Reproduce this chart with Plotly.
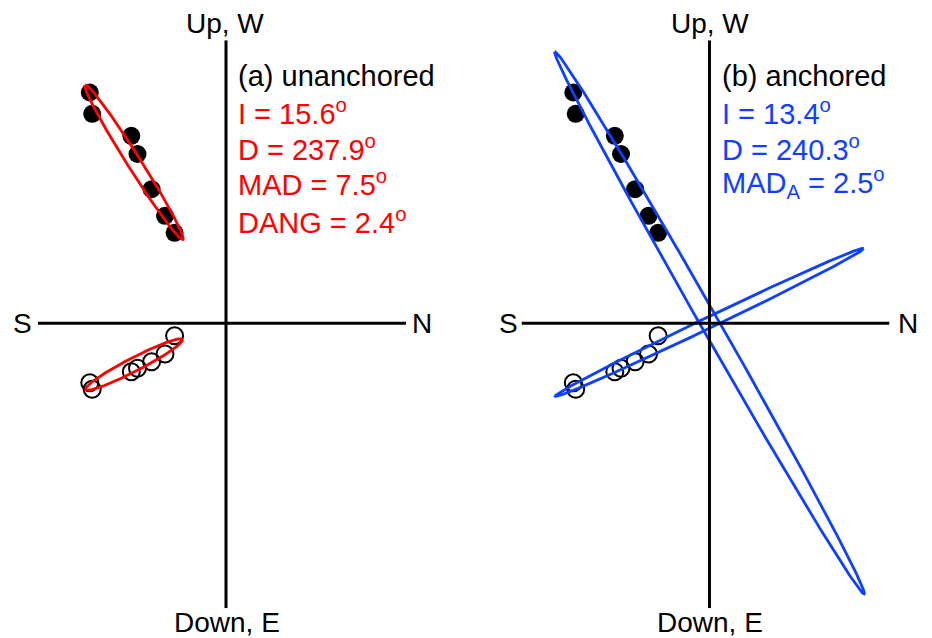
import numpy as np
import plotly.graph_objects as go

# Demagnetisation data (same for both panels), arbitrary units
x_ns = [-136.2, -133.8, -94.7, -88.5, -74.4, -61.0, -51.4]      # N-S horizontal component
y_up = [230.8, 209.5, 187.5, 169.3, 134.1, 107.5, 90.5]         # Up/W (filled)
y_down = [-59.4, -66.0, -48.4, -45.0, -38.4, -30.7, -12.4]      # Down/E (open)

# Ellipse parameters: [cx, cy, semi-major, semi-minor, angle_deg]
ell_a_upper = [-92.0, 161.0, 91.5, 6.8, 122.3]
ell_a_lower = [-92.0, -41.2, 54.5, 6.8, 27.3]
ell_b_upper = [0.0, 0.5, 312.0, 9.0, 119.7]
ell_b_lower = [0.0, 1.0, 171.0, 5.5, 25.6]

stats_a = ["(a) unanchored", "I = 15.6<sup>o</sup>", "D = 237.9<sup>o</sup>",
           "MAD = 7.5<sup>o</sup>", "DANG = 2.4<sup>o</sup>"]
stats_b = ["(b) anchored", "I = 13.4<sup>o</sup>", "D = 240.3<sup>o</sup>",
           "MAD<sub>A</sub> = 2.5<sup>o</sup>"]
axis_labels = ["Up, W", "Down, E", "S", "N"]

RED = "#ff0000"
BLUE = "#1040ff"
FONT = "Liberation Sans, Arial, sans-serif"

XR = [-188, 180]
YR = [-285, 283]

OFF = 8                      # page body margin
W, H = 932 - 2 * OFF, 638 - OFF


def px_x(px):
    return (px - OFF) / W


def px_y(py):
    return (H - (py - OFF)) / H


def ellipse(p, n=300):
    cx, cy, a, b, ang = p
    th = np.deg2rad(ang)
    t = np.linspace(0, 2 * np.pi, n)
    xs = cx + a * np.cos(t) * np.cos(th) - b * np.sin(t) * np.sin(th)
    ys = cy + a * np.cos(t) * np.sin(th) + b * np.sin(t) * np.cos(th)
    return xs, ys


fig = go.Figure()

panels = [("x", "y", [ell_a_upper, ell_a_lower], RED, stats_a,
           [(225, 23), (227, 622), (22, 323), (422, 323)]),
          ("x2", "y2", [ell_b_upper, ell_b_lower], BLUE, stats_b,
           [(710, 23), (710, 622), (508, 323), (908, 323)])]

for xa, ya, ells, col, stats, lab_pos in panels:
    fig.add_trace(go.Scatter(x=x_ns, y=y_up, mode="markers", xaxis=xa, yaxis=ya,
                             marker=dict(symbol="circle", size=18, color="black"),
                             showlegend=False, hoverinfo="skip"))
    fig.add_trace(go.Scatter(x=x_ns, y=y_down, mode="markers", xaxis=xa, yaxis=ya,
                             marker=dict(symbol="circle-open", size=17, color="black",
                                         line=dict(width=2, color="black")),
                             showlegend=False, hoverinfo="skip"))
    for e in ells:
        ex, ey = ellipse(e)
        fig.add_trace(go.Scatter(x=ex, y=ey, mode="lines", xaxis=xa, yaxis=ya,
                                 line=dict(color=col, width=2.8),
                                 showlegend=False, hoverinfo="skip"))
    # axes lines
    fig.add_trace(go.Scatter(x=[XR[0], XR[1]], y=[0, 0], mode="lines", xaxis=xa, yaxis=ya,
                             line=dict(color="black", width=3), showlegend=False,
                             hoverinfo="skip"))
    fig.add_trace(go.Scatter(x=[0, 0], y=[YR[0], YR[1]], mode="lines", xaxis=xa, yaxis=ya,
                             line=dict(color="black", width=3), showlegend=False,
                             hoverinfo="skip"))

    for txt, (lx, ly) in zip(axis_labels, lab_pos):
        fig.add_annotation(x=px_x(lx), y=px_y(ly), xref="paper", yref="paper", text=txt,
                           showarrow=False, xanchor="center", yanchor="middle",
                           font=dict(family=FONT, size=28, color="black"))
    ys_text = [247, 211, 175, 140, 102]
    for i, s in enumerate(stats):
        fig.add_annotation(x=10, y=ys_text[i], xref=xa, yref=ya, text=s, showarrow=False,
                           xanchor="left", yanchor="middle",
                           font=dict(family=FONT, size=29,
                                     color="black" if i == 0 else col))

ydom = [px_y(608.3), px_y(40.3)]
ax_common = dict(visible=False, showgrid=False, zeroline=False, fixedrange=True)
fig.update_layout(
    width=W, height=H,
    margin=dict(l=0, r=0, t=0, b=0),
    paper_bgcolor="white", plot_bgcolor="white",
    xaxis=dict(domain=[px_x(38), px_x(406)], range=XR, **ax_common),
    yaxis=dict(domain=ydom, range=YR, **ax_common),
    xaxis2=dict(domain=[px_x(521.5), px_x(889.5)], range=XR, anchor="y2", **ax_common),
    yaxis2=dict(domain=ydom, range=YR, anchor="x2", **ax_common),
)

fig.write_html("out.html")
